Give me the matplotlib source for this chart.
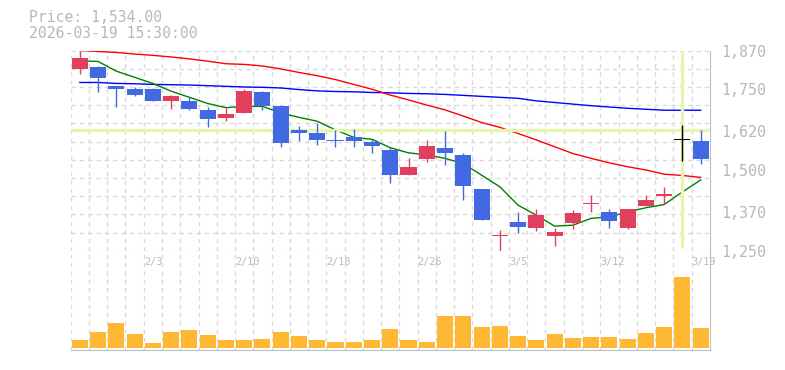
import numpy as np
import matplotlib.pyplot as plt
from matplotlib.transforms import blended_transform_factory

dates = ["1/28", "1/29", "1/30", "2/2", "2/3", "2/4", "2/5", "2/6", "2/9", "2/10",
         "2/12", "2/13", "2/16", "2/17", "2/18", "2/19", "2/20", "2/24", "2/25", "2/26",
         "2/27", "3/2", "3/3", "3/4", "3/5", "3/6", "3/9", "3/10", "3/11", "3/12",
         "3/13", "3/16", "3/17", "3/18", "3/19"]
tick_dates = ["2/3", "2/10", "2/18", "2/26", "3/5", "3/12", "3/19"]

opens = [1814, 1819, 1760, 1751, 1751, 1714, 1713, 1686, 1662, 1677, 1741, 1698, 1625, 1614, 1593,
         1602, 1587, 1562, 1485, 1535, 1568, 1546, 1441, 1295, 1338, 1321, 1296, 1336, 1396, 1369,
         1320, 1389, 1420, 1593, 1589]
closes = [1847, 1786, 1752, 1732, 1714, 1729, 1690, 1659, 1673, 1744, 1699, 1584, 1614, 1593, 1590,
          1590, 1575, 1485, 1509, 1574, 1553, 1451, 1346, 1297, 1322, 1360, 1308, 1366, 1398, 1341,
          1379, 1407, 1426, 1593, 1534]
highs = [1870, 1822, 1761, 1757, 1755, 1732, 1726, 1695, 1693, 1751, 1744, 1699, 1636, 1647, 1625,
         1627, 1596, 1572, 1537, 1593, 1620, 1552, 1441, 1314, 1369, 1379, 1321, 1375, 1422, 1379,
         1379, 1422, 1447, 1639, 1624]
lows = [1798, 1742, 1696, 1730, 1713, 1690, 1687, 1634, 1652, 1676, 1687, 1572, 1590, 1578, 1572,
        1572, 1553, 1460, 1485, 1525, 1515, 1407, 1344, 1250, 1305, 1311, 1265, 1317, 1369, 1321,
        1318, 1387, 1394, 1528, 1518]

ma_short = [1838, 1836, 1806, 1787, 1768, 1744, 1725, 1706, 1693, 1697, 1697, 1677, 1663, 1651, 1624,
            1601, 1595, 1569, 1553, 1547, 1536, 1520, 1484, 1448, 1391, 1360, 1326, 1329, 1350, 1355,
            1370, 1383, 1393, 1432, 1469]
ma_mid = [1870, 1867, 1864, 1859, 1855, 1850, 1844, 1837, 1829, 1827, 1822, 1813, 1802, 1792, 1780,
          1765, 1750, 1732, 1717, 1701, 1686, 1667, 1647, 1632, 1613, 1593, 1572, 1551, 1536, 1522,
          1510, 1500, 1487, 1483, 1477]
ma_long = [1771, 1771, 1768, 1767, 1765, 1764, 1763, 1761, 1759, 1757, 1756, 1754, 1749, 1745, 1743,
           1742, 1740, 1739, 1737, 1736, 1734, 1731, 1728, 1725, 1722, 1714, 1709, 1704, 1699, 1695,
           1691, 1688, 1685, 1685, 1685]

volumes = [80, 160, 250, 140, 50, 160, 180, 130, 80, 80, 90, 160, 120, 80, 60,
           60, 80, 190, 80, 60, 320, 320, 210, 220, 120, 80, 140, 100, 110, 110,
           90, 150, 210, 713, 200]

price_ticks = [1250, 1370, 1500, 1620, 1750, 1870]
cross_price = 1623
cross_index = 33
title_lines = ["Price: 1,534.00", "2026-03-19 15:30:00"]

UP = "#e0405e"
DOWN = "#4169e1"
FLAT = "#000000"
GRID = "#d9d9d9"
AXIS = "#bdbdbd"
TEXT = "#b8b8b8"
HILITE = "#e4f5b0"
VOL = "#ffb833"
MONO = "DejaVu Sans Mono"

n = len(dates)
x = np.arange(n)

fig = plt.figure(figsize=(7.85, 3.7), dpi=100)
W, H = 785, 370
left, right = 70.7, 709.8
p_top, p_bot = 50.5, 250.7
v_bot = 350.0

ax = fig.add_axes([left / W, 1 - p_bot / H, (right - left) / W, (p_bot - p_top) / H])
axv = fig.add_axes([left / W, 1 - v_bot / H, (right - left) / W, (v_bot - p_bot) / H])

dash = (0, (3, 3))

# price panel
ax.set_xlim(-0.5, n - 0.5)
ax.set_ylim(1250, 1870)
for i in range(n):
    ax.axvline(i - 0.5, color=GRID, lw=1, ls=dash, zorder=0)
for yy in np.linspace(1250, 1870, 12)[1:]:
    ax.axhline(yy, color=GRID, lw=1, ls=dash, zorder=0)

ax.plot(x, ma_long, color="#0000ff", lw=1, zorder=2)
ax.plot(x, ma_mid, color="#ff0000", lw=1, zorder=2)
ax.plot(x, ma_short, color="#008000", lw=1, zorder=2)

ax.axhline(cross_price, color=HILITE, lw=2.4, zorder=3)
ax.plot([cross_index, cross_index], [1257, 1866], color=HILITE, lw=2.4, zorder=3,
        solid_capstyle="butt")

for i in range(n):
    o, c = opens[i], closes[i]
    if c > o:
        col = UP
    elif c < o:
        col = DOWN
    else:
        col = FLAT
    ax.vlines(i, lows[i], highs[i], color=col, lw=1, zorder=4)
    body = max(abs(c - o), 3)
    ax.bar(i, body, bottom=min(o, c) - (body - abs(c - o)) / 2, width=0.88,
           color=col, linewidth=0, zorder=5)

ax.yaxis.tick_right()
ax.set_yticks(price_ticks)
ax.set_yticklabels([f"{v:,}" for v in price_ticks], family=MONO, fontsize=10.8, color=TEXT)
for lab in ax.get_yticklabels():
    lab.set_va("center_baseline")
ax.tick_params(axis="y", length=0, pad=8)
ax.set_xticks([])
for s in ["top", "left"]:
    ax.spines[s].set_visible(False)
ax.spines["bottom"].set_color(AXIS)
ax.spines["right"].set_color(AXIS)

# volume panel
axv.set_xlim(-0.5, n - 0.5)
axv.set_ylim(-20, 977)
for i in range(n):
    axv.axvline(i - 0.5, color=GRID, lw=1, ls=dash, zorder=0)
axv.bar(x, volumes, width=0.88, color=VOL, linewidth=0, zorder=2)
axv.set_xticks([])
axv.set_yticks([])
for s in ["top", "left"]:
    axv.spines[s].set_visible(False)
axv.spines["bottom"].set_color(AXIS)
axv.spines["right"].set_color(AXIS)

trans = blended_transform_factory(axv.transData, axv.transAxes)
for lab in tick_dates:
    i = dates.index(lab)
    axv.annotate(lab, xy=(i - 0.5, 1), xycoords=trans, xytext=(0, -8), textcoords="offset points",
                 ha="left", va="center", family=MONO, fontsize=7.4, color="#bbbbbb")

fig.text(29 / W, 1 - 17 / H, title_lines[0], family=MONO, fontsize=10.6, color=TEXT, va="center")
fig.text(29 / W, 1 - 33 / H, title_lines[1], family=MONO, fontsize=10.6, color=TEXT, va="center")

fig.savefig("out.png", dpi=100)
